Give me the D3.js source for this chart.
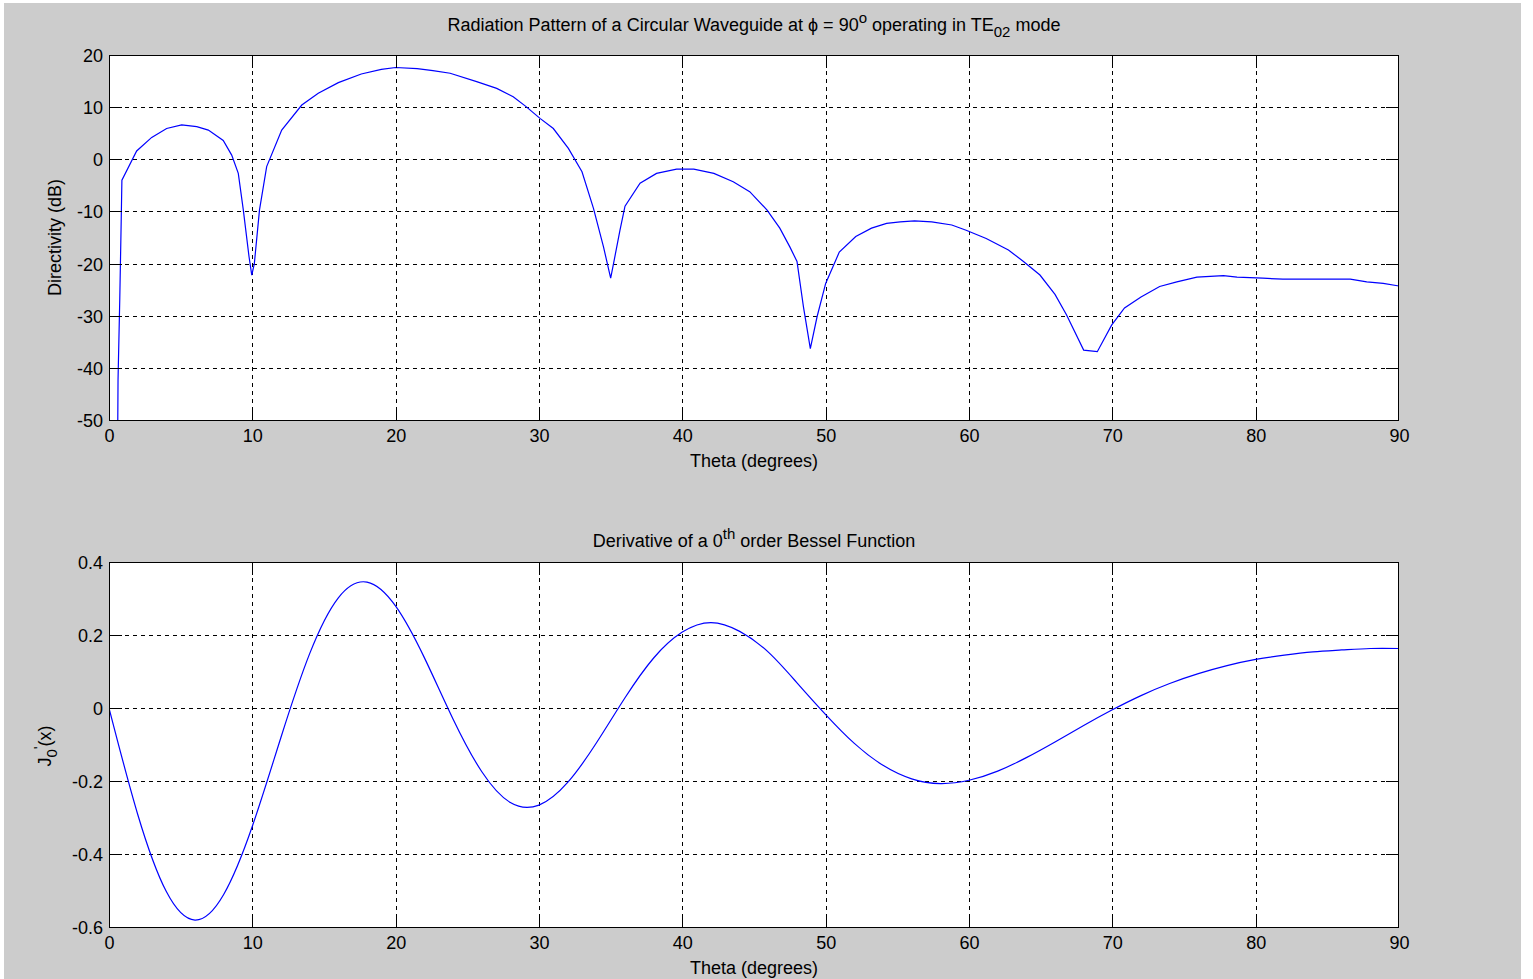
<!DOCTYPE html>
<html><head><meta charset="utf-8">
<script src="https://cdn.jsdelivr.net/npm/d3@7"></script>
<style>
body{margin:0;background:#fff}
text{font-family:"Liberation Sans",Arial,Helvetica,sans-serif;fill:#000}
</style>
</head><body>
<svg id="c" width="1533" height="979"></svg>
<script>
// ---- data ----
const thetaTop = [0.6,0.63,0.75,0.85,0.9,1.93,2.98,4.02,5.07,6.12,6.93,7.97,8.56,9.02,9.37,9.77,9.96,10.14,10.5,11,12.05,13.45,14.6,16.0,17.6,19.0,20,21.5,22.6,23.8,25.65,27.05,28.2,29.1,30.07,31.0,32.05,33.0,33.8,34.5,35.0,35.2,35.65,36.0,37.05,38.2,39.6,40.8,42.2,43.55,44.7,45.9,46.8,47.5,48.0,48.45,48.93,49.4,50.0,50.95,52.1,53.2,54.25,55.2,56.2,57.4,58.8,59.8,61.2,62.75,63.8,64.95,66.0,66.8,68.0,68.95,69.95,70.85,72.0,73.3,74.5,75.9,77.75,78.7,80.5,81.9,86.6,87.75,88.9,90];
const directivityTop = [-56,-42.3,-27,-12,-4.0,1.6,4.2,5.9,6.6,6.25,5.6,3.6,0.8,-2.7,-9.7,-18.7,-22.2,-20,-9.7,-1.4,5.6,10.4,12.65,14.7,16.36,17.25,17.6,17.4,17.0,16.5,14.9,13.6,12.0,10.1,7.85,5.9,2.1,-2.4,-9.4,-16.8,-22.8,-20,-13.6,-9.0,-4.6,-2.7,-1.9,-1.9,-2.7,-4.3,-6.2,-9.7,-13.2,-16.8,-19.6,-28.3,-36.3,-30.2,-23.8,-17.8,-14.8,-13.2,-12.3,-12.0,-11.8,-12.0,-12.6,-13.6,-15.2,-17.4,-19.6,-22.2,-25.9,-29.8,-36.6,-36.9,-31.8,-28.5,-26.4,-24.4,-23.5,-22.6,-22.3,-22.6,-22.8,-23.0,-23.0,-23.5,-23.8,-24.3];

const thetaBot = [0,2,4,6,8,10,12,14,16,18,20,22,24,26,28,30,32,34,36,38,40,42,44,46,48,50,52,54,56,58,60,62,64,66,68,70,72,74,76,78,80,82,84,86,88,90];
const besselBot = [0,-0.291,-0.503,-0.581,-0.511,-0.324,-0.080,0.149,0.302,0.345,0.279,0.138,-0.030,-0.174,-0.259,-0.266,-0.204,-0.096,0.028,0.137,0.208,0.234,0.210,0.153,0.069,-0.018,-0.097,-0.157,-0.194,-0.207,-0.198,-0.173,-0.136,-0.093,-0.048,-0.005,0.034,0.067,0.094,0.116,0.133,0.145,0.154,0.159,0.163,0.163];

const xTickLabels = [0,10,20,30,40,50,60,70,80,90];
const yTicksTop = [-50,-40,-30,-20,-10,0,10,20];
const yTicksBot = [-0.6,-0.4,-0.2,0,0.2,0.4];

// ---- drawing ----
const svg = d3.select("#c");
svg.append("rect").attr("x",4).attr("y",3).attr("width",1517).attr("height",976).attr("fill","#cccccc");

const L = 109, R = 1399, TICK = 13;

function panel(cfg){
  const {top, bottom, ydom, yticks, xs, ys, curve, id} = cfg;
  const x = d3.scaleLinear().domain([0,90]).range([L,R]);
  const y = d3.scaleLinear().domain(ydom).range([bottom, top]);
  const g = svg.append("g");
  g.append("rect").attr("x",L).attr("y",top).attr("width",R-L).attr("height",bottom-top).attr("fill","#fff");
  // grid
  const gg = g.append("g").attr("stroke","#000").attr("stroke-width",1).attr("stroke-dasharray","4,4").attr("shape-rendering","crispEdges");
  xTickLabels.slice(1,-1).forEach(t=>{
    gg.append("line").attr("x1",Math.round(x(t))+0.5).attr("x2",Math.round(x(t))+0.5).attr("y1",top).attr("y2",bottom);
  });
  yticks.slice(1,-1).forEach(t=>{
    gg.append("line").attr("y1",Math.round(y(t))+0.5).attr("y2",Math.round(y(t))+0.5).attr("x1",L).attr("x2",R);
  });
  // curve
  svg.append("clipPath").attr("id",id).append("rect").attr("x",L).attr("y",top).attr("width",R-L).attr("height",bottom-top);
  const pts = xs.map((t,i)=>[t, ys[i]]);
  const line = d3.line().x(d=>x(d[0])).y(d=>y(d[1])).curve(curve);
  g.append("path").attr("d",line(pts)).attr("fill","none").attr("stroke","#0000ff").attr("stroke-width",1.2).attr("clip-path",`url(#${id})`);
  // axes with inward ticks
  const ax = g.append("g").attr("shape-rendering","crispEdges");
  const xb = ax.append("g").attr("transform",`translate(0,${bottom})`).call(d3.axisBottom(x).tickValues(xTickLabels).tickSizeInner(-TICK).tickSizeOuter(0).tickFormat(d=>String(d)).tickPadding(0));
  const xt = ax.append("g").attr("transform",`translate(0,${top})`).call(d3.axisTop(x).tickValues(xTickLabels).tickSizeInner(-TICK).tickSizeOuter(0).tickFormat(""));
  const yl = ax.append("g").attr("transform",`translate(${L},0)`).call(d3.axisLeft(y).tickValues(yticks).tickSizeInner(-TICK).tickSizeOuter(0).tickFormat(d=>String(d)).tickPadding(0));
  const yr = ax.append("g").attr("transform",`translate(${R},0)`).call(d3.axisRight(y).tickValues(yticks).tickSizeInner(-TICK).tickSizeOuter(0).tickFormat(""));
  ax.selectAll(".domain").remove();
  ax.selectAll(".tick line").attr("stroke","#000");
  // hide tick marks at the box ends
  [xb,xt].forEach(a=>a.selectAll(".tick").filter(d=>d===0||d===90).select("line").remove());
  [yl,yr].forEach(a=>a.selectAll(".tick").filter(d=>d===ydom[0]||d===ydom[1]).select("line").remove());
  ax.selectAll("text").attr("font-size",18).attr("font-family","Liberation Sans, Arial, sans-serif").attr("fill","#000");
  xb.selectAll(".tick text").attr("y",22).attr("dy",0);
  yl.selectAll(".tick text").attr("x",-6).attr("dy","0.36em");
  // box
  g.append("rect").attr("x",L+0.5).attr("y",top+0.5).attr("width",R-L-1).attr("height",bottom-top).attr("fill","none").attr("stroke","#000").attr("stroke-width",1).attr("shape-rendering","crispEdges");
  // x label
  g.append("text").attr("x",(L+R)/2).attr("y",bottom+47).attr("text-anchor","middle").attr("font-size",18).text("Theta (degrees)");
  return {x,y};
}

panel({top:55,bottom:420,ydom:[-50,20],yticks:yTicksTop,xs:thetaTop,ys:directivityTop,curve:d3.curveLinear,id:"clipTop"});
panel({top:562,bottom:927,ydom:[-0.6,0.4],yticks:yTicksBot,xs:thetaBot,ys:besselBot,curve:d3.curveNatural,id:"clipBot"});

// titles
const t1 = svg.append("text").attr("x",(L+R)/2).attr("y",31).attr("text-anchor","middle").attr("font-size",18);
t1.append("tspan").text("Radiation Pattern of a Circular Waveguide at ϕ = 90");
t1.append("tspan").attr("dy",-8).attr("font-size",15).text("o");
t1.append("tspan").attr("dy",8).text(" operating in TE");
t1.append("tspan").attr("dy",6).attr("font-size",15).text("02");
t1.append("tspan").attr("dy",-6).text(" mode");

const t2 = svg.append("text").attr("x",(L+R)/2).attr("y",547).attr("text-anchor","middle").attr("font-size",18);
t2.append("tspan").text("Derivative of a 0");
t2.append("tspan").attr("dy",-8).attr("font-size",15).text("th");
t2.append("tspan").attr("dy",8).text(" order Bessel Function");

// y labels
svg.append("text").attr("transform","translate(61,237.5) rotate(-90)").attr("text-anchor","middle").attr("font-size",18).text("Directivity (dB)");
const ylab = svg.append("text").attr("transform","translate(51,746) rotate(-90)").attr("text-anchor","middle").attr("font-size",18);
ylab.append("tspan").text("J");
ylab.append("tspan").attr("dy",6).attr("font-size",15).text("0");
ylab.append("tspan").attr("dy",-13).attr("font-size",15).text("'");
ylab.append("tspan").attr("dy",7).text("(x)");
</script>
</body></html>
